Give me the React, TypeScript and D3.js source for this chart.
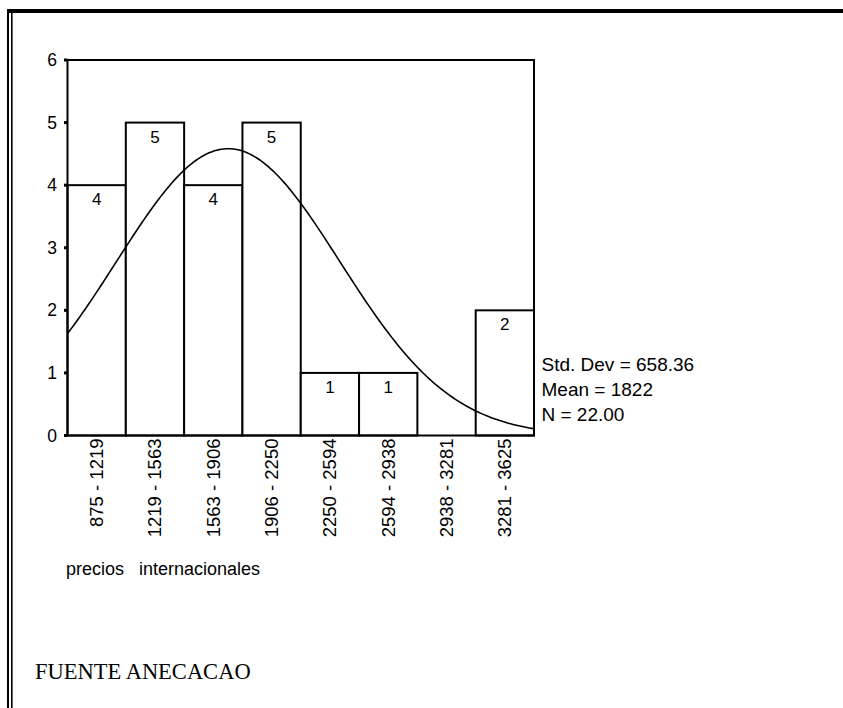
import React from "react";
import * as d3 from "d3";

// ---- data ----
const binEdges = [875, 1219, 1563, 1906, 2250, 2594, 2938, 3281, 3625];
const binLabels = [
  "875 - 1219",
  "1219 - 1563",
  "1563 - 1906",
  "1906 - 2250",
  "2250 - 2594",
  "2594 - 2938",
  "2938 - 3281",
  "3281 - 3625",
];
const counts = [4, 5, 4, 5, 1, 1, 0, 2];
const yTicks = [0, 1, 2, 3, 4, 5, 6];
const statMean = 1822;
const statSd = 658.36;
const statN = 22;
const statLines = ["Std. Dev = 658.36", "Mean = 1822", "N = 22.00"];
const xTitle = "precios   internacionales";
const sourceNote = "FUENTE ANECACAO";

const W = 843;
const H = 708;
const plot = { left: 67.5, right: 534, top: 60, bottom: 435.5 };
const sans = "'Liberation Sans', Arial, Helvetica, sans-serif";
const serif = "'Liberation Serif', 'Times New Roman', serif";

export default function App() {
  const xMin = binEdges[0];
  const xMax = binEdges[binEdges.length - 1];
  const x = d3.scaleLinear().domain([xMin, xMax]).range([plot.left, plot.right]);
  const y = d3.scaleLinear().domain([0, 6]).range([plot.bottom, plot.top]);
  const band = d3
    .scaleBand<string>()
    .domain(binLabels)
    .range([plot.left, plot.right])
    .padding(0);

  const binWidth = (xMax - xMin) / counts.length;
  const pdf = (v: number) =>
    (statN * binWidth) / (statSd * Math.sqrt(2 * Math.PI)) *
    Math.exp(-0.5 * ((v - statMean) / statSd) ** 2);
  const curvePts = d3.range(xMin, xMax + 1e-6, (xMax - xMin) / 200).map((v) => [v, pdf(v)] as [number, number]);
  const line = d3
    .line<[number, number]>()
    .x((d) => x(d[0]))
    .y((d) => y(d[1]));

  return (
    <svg
      width={W}
      height={H}
      style={{ position: "absolute", left: 0, top: 0, background: "#fff" }}
    >
      <rect x={0} y={0} width={W} height={H} fill="#fff" />
      {/* page border */}
      <line x1={7} x2={W} y1={11} y2={11} stroke="#000" strokeWidth={4} />
      <line x1={8} x2={8} y1={9} y2={H} stroke="#000" strokeWidth={2} />
      <line x1={11.8} x2={11.8} y1={13} y2={H} stroke="#000" strokeWidth={1.6} />

      {/* bars */}
      {counts.map((c, i) => {
        const bx = band(binLabels[i])!;
        const bw = band.bandwidth();
        if (c <= 0) return null;
        return (
          <g key={i}>
            <rect
              x={bx}
              y={y(c)}
              width={bw}
              height={y(0) - y(c)}
              fill="#fff"
              stroke="#000"
              strokeWidth={2}
            />
            <text
              x={bx + bw / 2}
              y={y(c) + 20}
              textAnchor="middle"
              fontFamily={sans}
              fontSize={17}
              fill="#000"
            >
              {c}
            </text>
          </g>
        );
      })}

      {/* normal curve */}
      <path d={line(curvePts) || ""} fill="none" stroke="#000" strokeWidth={1.6} />

      {/* frame */}
      <rect
        x={plot.left}
        y={plot.top}
        width={plot.right - plot.left}
        height={plot.bottom - plot.top}
        fill="none"
        stroke="#000"
        strokeWidth={2}
      />

      {/* y ticks */}
      {yTicks.map((t) => (
        <g key={t}>
          <rect x={plot.left - 3.5} y={y(t) - 1.5} width={3.5} height={3} fill="#000" />
          <text
            x={57}
            y={y(t) + 6}
            textAnchor="end"
            fontFamily={sans}
            fontSize={17.5}
            fill="#000"
          >
            {t}
          </text>
        </g>
      ))}

      {/* x labels */}
      {binLabels.map((lab) => {
        const cx = band(lab)! + band.bandwidth() / 2;
        return (
          <text
            key={lab}
            transform={`translate(${cx},${plot.bottom + 3}) rotate(-90)`}
            textAnchor="end"
            dy="0.35em"
            fontFamily={sans}
            fontSize={18.5}
            fill="#000"
          >
            {lab}
          </text>
        );
      })}

      {/* stats */}
      {statLines.map((s, i) => (
        <text
          key={s}
          x={541.5}
          y={371 + i * 25}
          fontFamily={sans}
          fontSize={19}
          fill="#000"
        >
          {s}
        </text>
      ))}

      <text
        x={66}
        y={575}
        fontFamily={sans}
        fontSize={18}
        fill="#000"
        style={{ whiteSpace: "pre" }}
      >
        {xTitle}
      </text>

      <text x={35} y={679} fontFamily={serif} fontSize={22.5} fill="#000">
        {sourceNote}
      </text>
    </svg>
  );
}
